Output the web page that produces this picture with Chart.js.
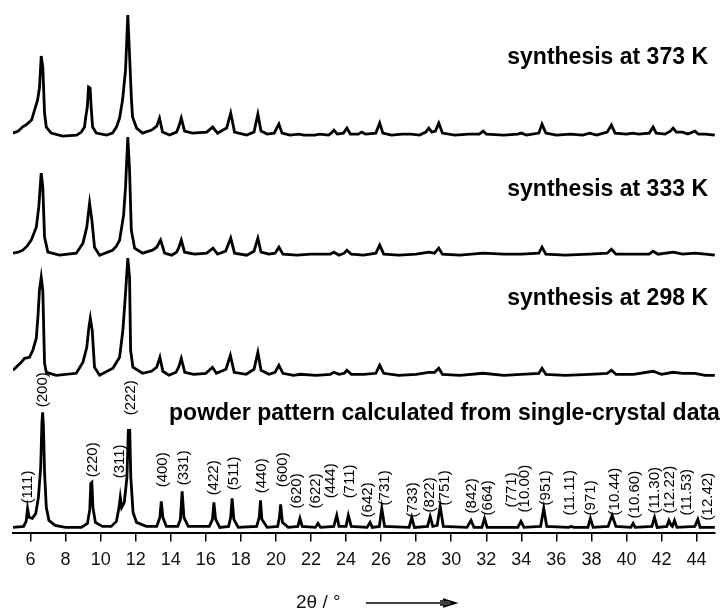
<!DOCTYPE html>
<html>
<head>
<meta charset="utf-8">
<script src="https://cdn.jsdelivr.net/npm/chart.js@4.4.0/dist/chart.umd.min.js"></script>
<style>
  html, body { margin: 0; padding: 0; background: #fff; }
  #wrap { width: 726px; height: 613px; }
</style>
</head>
<body>
<div id="wrap"><canvas id="xrd" width="726" height="613"></canvas></div>
<script>
// 2theta tick positions
const tickValues = [6, 8, 10, 12, 14, 16, 18, 20, 22, 24, 26, 28, 30, 32, 34, 36, 38, 40, 42, 44]

// vertical offsets used to stack the patterns
const offsets = { s373: 398, s333: 278, s298: 158, calc: 6 }

// measured patterns, [2theta, intensity above own baseline]
const pattern373 = [
  [5.0, 2], [5.3, 4], [5.54, 8], [5.8, 11], [6.06, 15], [6.23, 25], [6.40, 35], [6.51, 47], [6.61, 79], [6.70, 68],
  [6.80, 22], [6.90, 8], [7.18, 2], [7.83, -1], [8.63, 0], [8.9, 3], [9.08, 8], [9.15, 18], [9.24, 28], [9.31, 48],
  [9.40, 47], [9.46, 28], [9.54, 8], [9.75, 2], [10.34, 0], [10.68, 2], [10.9, 8], [11.08, 17], [11.25, 35],
  [11.42, 65], [11.55, 120], [11.65, 80], [11.75, 38], [11.82, 18], [12.05, 7], [12.39, 2], [12.91, 5], [13.2, 9],
  [13.36, 17], [13.53, 3], [13.93, 0], [14.33, 3], [14.45, 8], [14.60, 17], [14.79, 4], [15.25, 2], [16.05, 3],
  [16.39, 8], [16.67, 2], [17.19, 7], [17.42, 22], [17.64, 3], [18.33, 0], [18.75, 3], [18.97, 21], [19.15, 4],
  [19.5, 1], [19.9, 2], [20.17, 11], [20.35, 2], [20.8, 0], [21.3, 1], [21.6, 0], [22.2, 0], [22.5, 1], [23.0, 0],
  [23.15, 2], [23.31, 5], [23.5, 1], [23.85, 2], [24.05, 7], [24.25, 1], [24.7, 1], [24.89, 3], [25.1, 1], [25.7, 2],
  [25.92, 12], [26.1, 2], [26.6, 0], [27.2, 1], [27.7, 1], [28.2, 0], [28.55, 3], [28.72, 7], [28.9, 3], [29.1, 4],
  [29.29, 12], [29.5, 2], [30.2, 0], [31.0, 1], [31.6, 1], [31.82, 4], [32.0, 1], [33.0, 0], [33.8, 1], [34.0, 2],
  [34.3, 0], [35.0, 2], [35.18, 11], [35.4, 2], [36.0, 0], [36.8, 1], [37.5, 0], [37.9, 2], [38.3, 0], [38.9, 3],
  [39.14, 10], [39.35, 2], [40.0, 1], [40.36, 2], [40.7, 1], [41.3, 2], [41.52, 8], [41.7, 2], [42.2, 1], [42.5, 4],
  [42.66, 7], [42.85, 3], [43.2, 3], [43.5, 1], [43.9, 4], [44.1, 1], [44.5, 1], [45.04, 0]
]

const pattern333 = [
  [5.0, 2], [5.3, 3], [5.56, 5], [5.8, 9], [6.04, 15], [6.33, 28], [6.47, 48], [6.55, 68], [6.61, 82], [6.70, 68],
  [6.80, 18], [6.99, 3], [7.66, 0], [8.61, 2], [8.99, 12], [9.21, 28], [9.37, 52], [9.50, 35], [9.65, 8], [9.94, 0],
  [10.68, 5], [10.9, 9], [11.08, 15], [11.31, 40], [11.42, 68], [11.55, 118], [11.65, 85], [11.75, 25], [11.94, 7],
  [12.39, 2], [12.96, 5], [13.2, 8], [13.42, 15], [13.65, 2], [14.05, 0], [14.33, 3], [14.45, 7], [14.60, 15],
  [14.79, 3], [15.36, 1], [16.05, 2], [16.41, 7], [16.67, 1], [17.13, 4], [17.42, 17], [17.64, 2], [18.33, 0],
  [18.75, 4], [18.97, 17], [19.15, 3], [19.6, 1], [19.95, 2], [20.17, 8], [20.4, 1], [21.2, 0], [22.0, 1], [23.1, 1],
  [23.31, 3], [23.6, 0], [23.9, 2], [24.05, 5], [24.3, 1], [25.0, 0], [25.7, 2], [25.92, 10], [26.15, 1], [27.0, 0],
  [28.0, 1], [28.72, 3], [29.05, 2], [29.29, 7], [29.5, 1], [30.5, 0], [31.82, 2], [33.0, 1], [34.0, 1], [35.0, 2],
  [35.18, 8], [35.4, 1], [36.5, 0], [37.9, 1], [38.9, 2], [39.14, 6], [39.4, 1], [40.4, 1], [41.3, 1], [41.52, 4],
  [41.8, 1], [42.66, 3], [43.2, 1], [43.9, 2], [44.5, 1], [45.04, 0]
]

const pattern298 = [
  [5.0, 5], [5.47, 13], [5.66, 17], [5.94, 18], [6.13, 25], [6.33, 37], [6.42, 58], [6.51, 85], [6.61, 98], [6.70, 85],
  [6.80, 12], [6.90, 3], [7.47, 0], [8.61, 2], [8.99, 13], [9.21, 28], [9.33, 48], [9.41, 57], [9.52, 45], [9.65, 8],
  [9.94, 0], [10.70, 7], [11.08, 18], [11.27, 45], [11.42, 82], [11.55, 117], [11.65, 98], [11.71, 25], [11.84, 8],
  [12.39, 2], [12.9, 4], [13.2, 8], [13.38, 18], [13.55, 4], [13.9, 0], [14.3, 3], [14.45, 8], [14.6, 17], [14.8, 3],
  [15.3, 1], [16.0, 2], [16.38, 8], [16.6, 2], [17.15, 6], [17.4, 20], [17.62, 3], [18.3, 1], [18.75, 6], [18.97, 23],
  [19.15, 5], [19.6, 1], [19.95, 3], [20.17, 10], [20.4, 2], [21.0, 0], [21.4, 1], [22.3, 0], [23.1, 1], [23.31, 3],
  [23.6, 1], [23.9, 2], [24.05, 5], [24.3, 1], [25.0, 1], [25.7, 2], [25.92, 10], [26.15, 2], [27.0, 0], [28.0, 1],
  [28.72, 3], [29.05, 3], [29.29, 7], [29.5, 1], [30.5, 0], [31.82, 2], [33.0, 0], [34.0, 1], [35.0, 2], [35.18, 7],
  [35.4, 1], [36.5, 0], [37.9, 1], [38.9, 2], [39.14, 5], [39.4, 1], [40.4, 1], [41.52, 4], [42.0, 1], [42.66, 3],
  [43.2, 2], [43.9, 2], [44.5, 0], [45.04, 0]
]

// pattern calculated from the single-crystal structure
const patternCalc = [
  [5.0, 0], [5.6, 1], [5.75, 6], [5.83, 19], [5.92, 10], [6.1, 9], [6.3, 14], [6.45, 30], [6.58, 60], [6.65, 105],
  [6.69, 115], [6.74, 100], [6.8, 55], [6.9, 20], [7.05, 7], [7.4, 2], [8.0, 0], [8.9, 0], [9.25, 4], [9.38, 18],
  [9.44, 44], [9.5, 45], [9.56, 20], [9.7, 5], [10.1, 1], [10.6, 1], [10.9, 6], [11.05, 20], [11.12, 30], [11.2, 20],
  [11.35, 25], [11.5, 50], [11.58, 97], [11.66, 97], [11.72, 50], [11.85, 15], [12.05, 5], [12.6, 1], [13.2, 1],
  [13.38, 10], [13.46, 26], [13.55, 10], [13.75, 1], [14.4, 1], [14.55, 8], [14.65, 36], [14.75, 10], [15.0, 1],
  [16.2, 1], [16.38, 8], [16.46, 25], [16.56, 8], [16.8, 0], [17.3, 1], [17.42, 10], [17.5, 29], [17.6, 8], [17.85, 0],
  [18.9, 1], [19.05, 10], [19.12, 27], [19.2, 8], [19.5, 0], [20.1, 1], [20.2, 10], [20.27, 23], [20.37, 5], [20.7, 0],
  [21.25, 1], [21.37, 9], [21.5, 1], [22.25, 0], [22.4, 4], [22.55, 0], [23.3, 1], [23.47, 12], [23.6, 1], [24.0, 1],
  [24.13, 12], [24.3, 1], [25.2, 0], [25.37, 5], [25.5, 0], [25.9, 1], [26.04, 19], [26.2, 1], [27.6, 0], [27.75, 10],
  [27.9, 0], [28.65, 1], [28.8, 11], [28.95, 1], [29.2, 2], [29.37, 21], [29.55, 1], [30.9, 0], [31.13, 7], [31.3, 0],
  [31.75, 0], [31.9, 9], [32.05, 0], [33.8, 0], [33.98, 6], [34.15, 0], [35.1, 1], [35.28, 19], [35.45, 1], [36.7, 0],
  [36.84, 1], [37.0, 0], [37.8, 0], [37.94, 9], [38.1, 0], [38.95, 1], [39.18, 12], [39.4, 1], [40.25, 0], [40.38, 4],
  [40.5, 0], [41.45, 1], [41.6, 10], [41.75, 0], [42.3, 1], [42.42, 7], [42.55, 2], [42.62, 1], [42.74, 7], [42.88, 0],
  [43.9, 1], [44.07, 8], [44.2, 0], [45.04, 0]
]

// reflection indices and where each label sits (2theta, bottom above calc baseline)
const hklText = ['(111)', '(200)', '(220)', '(311)', '(222)', '(400)', '(331)', '(422)', '(511)', '(440)', '(600)',
  '(620)', '(622)', '(444)', '(711)', '(642)', '(731)', '(733)', '(822)', '(751)', '(842)', '(664)', '(771)',
  '(10.00)', '(951)', '(11.11)', '(971)', '(10.44)', '(10.60)', '(11.30)', '(12.22)', '(11.53)', '(12.42)']
const hklX = [5.83, 6.68, 9.54, 11.08, 11.71, 13.53, 14.73, 16.45, 17.59, 19.17, 20.40, 21.17, 22.27, 23.16, 24.21,
  25.22, 26.21, 27.82, 28.77, 29.63, 31.15, 32.10, 33.44, 34.20, 35.39, 36.76, 37.95, 39.33, 40.47, 41.62, 42.47,
  43.43, 44.66]
const hklY = [24, 120, 50, 49, 112, 40, 42, 32, 37, 34, 40, 19, 19, 29, 29, 10, 22, 10, 15, 22, 14, 12, 20, 15, 22,
  12, 12, 12, 9, 14, 14, 12, 7]

// captions: text, right edge (2theta), centre height on the intensity scale
const captions = [
  ['synthesis at 373 K', 44.65, 475],
  ['synthesis at 333 K', 44.65, 343],
  ['synthesis at 298 K', 44.65, 235],
  ['powder pattern calculated from single-crystal data', 45.33, 120]
]

const FONT = '"Liberation Sans", Arial, sans-serif'

function series(points, offset) {
  return points.map(p => ({ x: p[0], y: p[1] + offset }))
}

const annotations = {
  id: 'annotations',
  afterDatasetsDraw(chart) {
    const ctx = chart.ctx
    const xs = chart.scales.x
    const ys = chart.scales.y
    ctx.save()
    ctx.fillStyle = '#000'

    // hkl labels, rotated to read upwards
    ctx.font = '15px ' + FONT
    ctx.textAlign = 'left'
    ctx.textBaseline = 'middle'
    hklText.forEach((t, i) => {
      ctx.save()
      ctx.translate(xs.getPixelForValue(hklX[i]), ys.getPixelForValue(hklY[i] + offsets.calc))
      ctx.rotate(-Math.PI / 2)
      ctx.fillText(t, 0, 0)
      ctx.restore()
    })

    // sample captions
    ctx.font = 'bold 23px ' + FONT
    ctx.textAlign = 'right'
    captions.forEach(c => {
      ctx.fillText(c[0], xs.getPixelForValue(c[1]), ys.getPixelForValue(c[2]))
    })

    // axis title with arrow
    const ty = chart.height - 10
    ctx.font = '19px ' + FONT
    ctx.textAlign = 'left'
    ctx.fillStyle = '#111'
    ctx.fillText('2θ / °', 296, ty)
    ctx.strokeStyle = '#000'
    ctx.lineWidth = 1.5
    ctx.beginPath()
    ctx.moveTo(366, ty)
    ctx.lineTo(456, ty)
    ctx.moveTo(443, ty - 4)
    ctx.lineTo(456, ty)
    ctx.lineTo(443, ty + 4)
    ctx.moveTo(440, ty - 2)
    ctx.lineTo(450, ty - 2)
    ctx.moveTo(440, ty + 2)
    ctx.lineTo(450, ty + 2)
    ctx.stroke()
    ctx.restore()
  }
}

new Chart('xrd', {
  type: 'line',
  data: {
    datasets: [
      { data: series(pattern373, offsets.s373) },
      { data: series(pattern333, offsets.s333) },
      { data: series(pattern298, offsets.s298) },
      { data: series(patternCalc, offsets.calc) }
    ]
  },
  options: {
    responsive: false,
    animation: false,
    layout: { padding: { left: 13, right: 11, top: 5, bottom: 34 } },
    plugins: { legend: { display: false }, tooltip: { enabled: false } },
    elements: {
      point: { radius: 0 },
      line: { borderColor: '#000', borderWidth: 2.8, tension: 0, fill: false, borderJoinStyle: 'miter' }
    },
    scales: {
      x: {
        type: 'linear', min: 5, max: 45.05,
        afterBuildTicks: s => { s.ticks = tickValues.map(v => ({ value: v })) },
        ticks: { font: { family: FONT, size: 18 }, color: '#111', padding: 8, maxRotation: 0, autoSkip: false },
        grid: { display: true, drawOnChartArea: false, drawTicks: true, tickLength: 8, color: '#000', lineWidth: 1.5 },
        border: { display: true, color: '#000', width: 2 }
      },
      y: { display: false, min: 0, max: 528 }
    }
  },
  plugins: [annotations]
})
</script>
</body>
</html>
